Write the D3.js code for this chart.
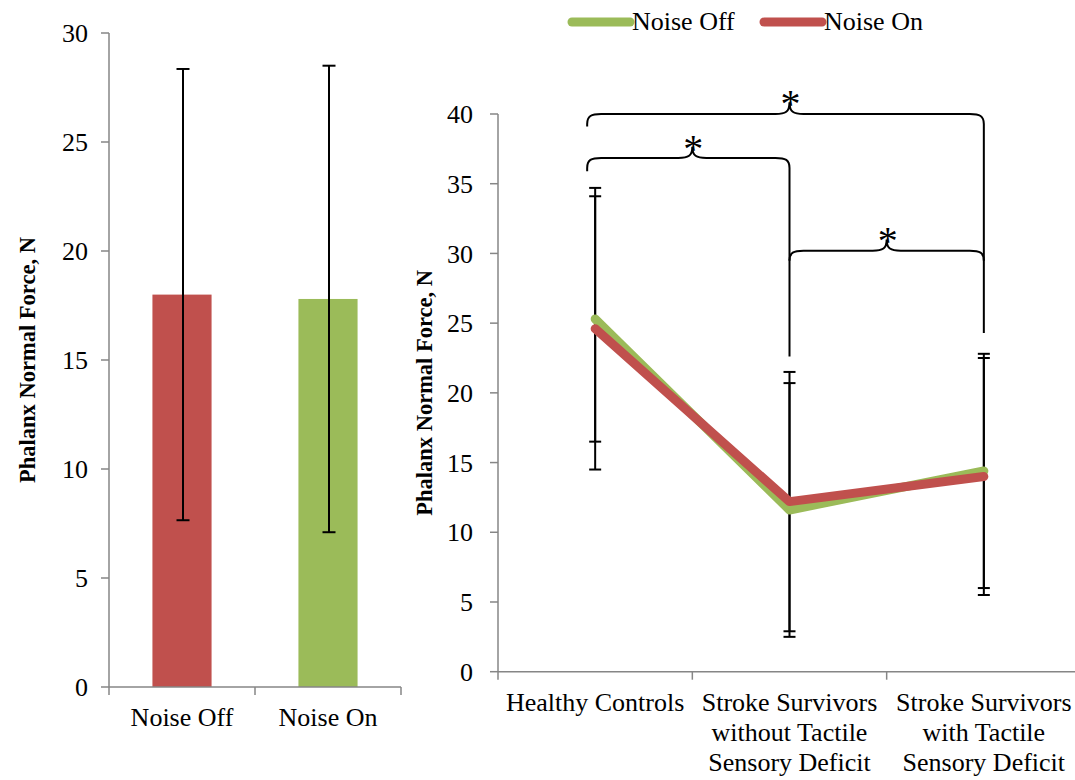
<!DOCTYPE html>
<html><head><meta charset="utf-8">
<script src="https://cdn.jsdelivr.net/npm/d3@7/dist/d3.min.js"></script>
<style>
body{margin:0;background:#fff;}
text{font-family:"Liberation Serif","Times New Roman",serif;fill:#000;}
</style></head>
<body>
<svg id="chart" width="1075" height="780"></svg>
<script>
// ---- Data: left bar chart ----
const barCategories = ["Noise Off", "Noise On"];
const barMeans = [18.0, 17.8];
const barSD = [10.35, 10.7];
const barColors = ["#C0504D", "#9BBB59"];
const leftTicks = [0, 5, 10, 15, 20, 25, 30];

// ---- Data: right line chart ----
const groups = ["Healthy Controls", "Stroke Survivors without Tactile Sensory Deficit", "Stroke Survivors with Tactile Sensory Deficit"];
const groupLabelLines = [["Healthy Controls"], ["Stroke Survivors", "without Tactile", "Sensory Deficit"], ["Stroke Survivors", "with Tactile", "Sensory Deficit"]];
const noiseOffMean = [25.3, 11.6, 14.4];
const noiseOffSD = [8.8, 9.1, 8.4];
const noiseOnMean = [24.6, 12.2, 14.0];
const noiseOnSD = [10.1, 9.3, 8.5];
const seriesNames = ["Noise Off", "Noise On"];
const seriesColors = ["#9BBB59", "#C0504D"];
const rightTicks = [0, 5, 10, 15, 20, 25, 30, 35, 40];
// significance braces: [from group, to group, level, tip level, left end, right end] (data units)
const braces = [
  [0, 2, 40.0, 40.85, 39.1, 24.3],
  [0, 1, 36.85, 37.65, 35.9, 22.6],
  [1, 2, 30.2, 31.0, 29.6, 29.6]
];

const svg = d3.select("#chart");
const axisGray = "#868686";
const fs = 26;

// ================= LEFT CHART =================
const yL = d3.scaleLinear().domain([0, 30]).range([687, 33]);
const xL = d3.scaleBand().domain(barCategories).range([109, 401]);
const gL = svg.append("g");

gL.append("line").attr("x1", xL.range()[0]).attr("x2", xL.range()[0])
  .attr("y1", yL(0)).attr("y2", yL(30)).attr("stroke", axisGray).attr("stroke-width", 1.5);
leftTicks.forEach(t => {
  gL.append("line").attr("x1", xL.range()[0] - 8).attr("x2", xL.range()[0])
    .attr("y1", yL(t)).attr("y2", yL(t)).attr("stroke", axisGray).attr("stroke-width", 1.5);
  gL.append("text").attr("x", xL.range()[0] - 21).attr("y", yL(t)).attr("dy", "0.35em")
    .attr("text-anchor", "end").attr("font-size", fs).text(t);
});
const bw = xL.bandwidth() * 0.405;
gL.selectAll("rect.bar").data(barCategories).enter().append("rect")
  .attr("x", d => xL(d) + xL.bandwidth() / 2 - bw / 2)
  .attr("width", bw)
  .attr("y", (d, i) => yL(barMeans[i]))
  .attr("height", (d, i) => yL(0) - yL(barMeans[i]))
  .attr("fill", (d, i) => barColors[i]);
gL.append("line").attr("x1", xL.range()[0]).attr("x2", xL.range()[1])
  .attr("y1", yL(0)).attr("y2", yL(0)).attr("stroke", axisGray).attr("stroke-width", 1.5);
[xL.range()[0], xL(barCategories[1]), xL.range()[1]].forEach(x => {
  gL.append("line").attr("x1", x).attr("x2", x).attr("y1", yL(0)).attr("y2", yL(0) + 8)
    .attr("stroke", axisGray).attr("stroke-width", 1.5);
});
barCategories.forEach(c => {
  gL.append("text").attr("x", xL(c) + xL.bandwidth() / 2).attr("y", 726)
    .attr("text-anchor", "middle").attr("font-size", fs).text(c);
});
barCategories.forEach((c, i) => {
  const cx = xL(c) + xL.bandwidth() / 2 + 1;
  const hi = yL(barMeans[i] + barSD[i]), lo = yL(barMeans[i] - barSD[i]);
  gL.append("line").attr("x1", cx).attr("x2", cx).attr("y1", hi).attr("y2", lo).attr("stroke", "#000").attr("stroke-width", 2);
  [hi, lo].forEach(y => gL.append("line").attr("x1", cx - 6.5).attr("x2", cx + 6.5).attr("y1", y).attr("y2", y).attr("stroke", "#000").attr("stroke-width", 2));
});
gL.append("text").attr("transform", `translate(35,${(yL(0) + yL(30)) / 2}) rotate(-90)`)
  .attr("text-anchor", "middle").attr("font-size", 22.5).attr("font-weight", "bold")
  .text("Phalanx Normal Force, N");

// ================= RIGHT CHART =================
const yR = d3.scaleLinear().domain([0, 40]).range([671.7, 114]);
const xR = d3.scaleBand().domain(groups).range([498, 1081]);
const cxR = g => xR(g) + xR.bandwidth() / 2;
const gR = svg.append("g");

gR.append("line").attr("x1", xR.range()[0]).attr("x2", xR.range()[0])
  .attr("y1", yR(0)).attr("y2", yR(40)).attr("stroke", axisGray).attr("stroke-width", 1.5);
rightTicks.forEach(t => {
  gR.append("line").attr("x1", xR.range()[0] - 8).attr("x2", xR.range()[0])
    .attr("y1", yR(t)).attr("y2", yR(t)).attr("stroke", axisGray).attr("stroke-width", 1.5);
  gR.append("text").attr("x", xR.range()[0] - 25).attr("y", yR(t)).attr("dy", "0.35em")
    .attr("text-anchor", "end").attr("font-size", fs).text(t);
});
gR.append("line").attr("x1", xR.range()[0]).attr("x2", xR.range()[1])
  .attr("y1", yR(0)).attr("y2", yR(0)).attr("stroke", axisGray).attr("stroke-width", 1.5);
[xR.range()[0], xR(groups[1]), xR(groups[2]), xR.range()[1]].forEach(x => {
  gR.append("line").attr("x1", x).attr("x2", x).attr("y1", yR(0)).attr("y2", yR(0) + 8)
    .attr("stroke", axisGray).attr("stroke-width", 1.5);
});
groups.forEach((g, i) => {
  const t = gR.append("text").attr("x", cxR(g)).attr("y", 711).attr("text-anchor", "middle").attr("font-size", fs);
  groupLabelLines[i].forEach((ln, k) => t.append("tspan").attr("x", cxR(g)).attr("dy", k === 0 ? 0 : 30).text(ln));
});
gR.append("text").attr("transform", `translate(432,${(yR(0) + yR(40)) / 2}) rotate(-90)`)
  .attr("text-anchor", "middle").attr("font-size", 22.5).attr("font-weight", "bold")
  .text("Phalanx Normal Force, N");

const seriesMeans = [noiseOffMean, noiseOnMean];
const seriesSD = [noiseOffSD, noiseOnSD];
seriesMeans.forEach((m, s) => {
  groups.forEach((g, i) => {
    const cx = cxR(g);
    const hi = yR(m[i] + seriesSD[s][i]), lo = yR(m[i] - seriesSD[s][i]);
    gR.append("line").attr("x1", cx).attr("x2", cx).attr("y1", hi).attr("y2", lo).attr("stroke", "#000").attr("stroke-width", 2);
    [hi, lo].forEach(y => gR.append("line").attr("x1", cx - 6).attr("x2", cx + 6).attr("y1", y).attr("y2", y).attr("stroke", "#000").attr("stroke-width", 2));
  });
});
const lineGen = d3.line().x((d, i) => cxR(groups[i])).y(d => yR(d));
seriesMeans.forEach((m, s) => {
  gR.append("path").attr("d", lineGen(m)).attr("fill", "none").attr("stroke", seriesColors[s])
    .attr("stroke-width", 9).attr("stroke-linecap", "round").attr("stroke-linejoin", "round");
});

braces.forEach(([a, b, lvl, tip, lEnd, rEnd]) => {
  const x1 = cxR(groups[a]) - (a === 0 ? 8 : 0);
  const x2 = cxR(groups[b]);
  const xm = (cxR(groups[a]) + cxR(groups[b])) / 2;
  const yb = yR(lvl), yt = yR(tip), yl = yR(lEnd), yr = yR(rEnd);
  const rx = 14, ry = 10;
  const p = d3.path();
  p.moveTo(x1, yl);
  p.lineTo(x1, yb + ry);
  p.bezierCurveTo(x1, yb + 2, x1 + 4, yb, x1 + rx, yb);
  p.lineTo(xm - rx, yb);
  p.bezierCurveTo(xm - 4, yb, xm, yb - 2, xm, yt);
  p.bezierCurveTo(xm, yb - 2, xm + 4, yb, xm + rx, yb);
  p.lineTo(x2 - rx, yb);
  p.bezierCurveTo(x2 - 4, yb, x2, yb + 2, x2, yb + ry);
  p.lineTo(x2, yr);
  gR.append("path").attr("d", p.toString()).attr("fill", "none").attr("stroke", "#000").attr("stroke-width", 2);
  gR.append("text").attr("x", xm + 1).attr("y", yt + 15).attr("text-anchor", "middle").attr("font-size", 40).text("*");
});

const legX = [572, 764];
seriesNames.forEach((n, s) => {
  svg.append("line").attr("x1", legX[s]).attr("x2", legX[s] + 58).attr("y1", 22).attr("y2", 22)
    .attr("stroke", seriesColors[s]).attr("stroke-width", 9).attr("stroke-linecap", "round");
  svg.append("text").attr("x", legX[s] + 60).attr("y", 30).attr("font-size", fs).text(n);
});
</script>
</body></html>
